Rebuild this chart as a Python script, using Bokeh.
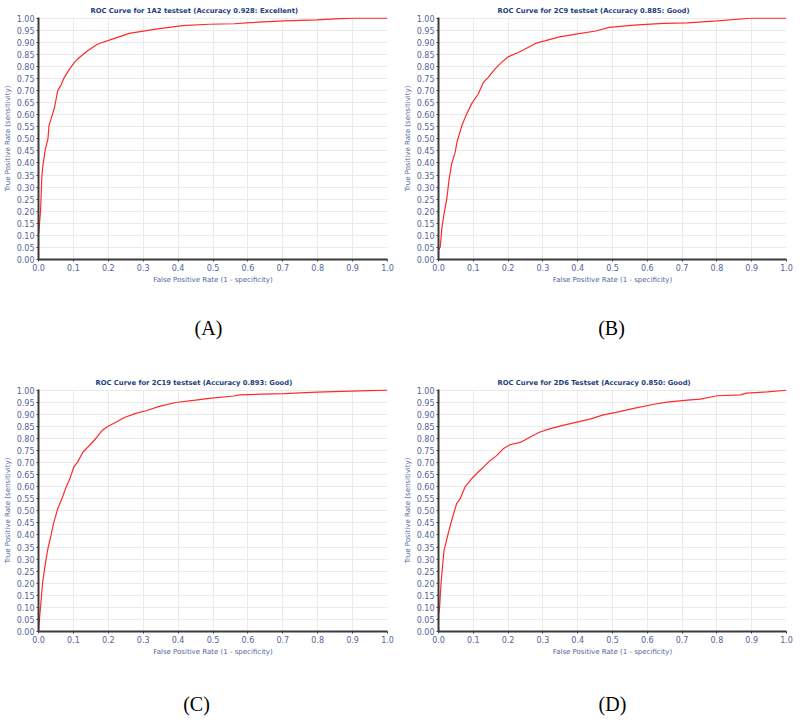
from bokeh.plotting import figure
from bokeh.models import Range1d, FixedTicker, PrintfTickFormatter
from bokeh.core.properties import value
from bokeh.layouts import column, row
from bokeh.embed import file_html
from bokeh.resources import INLINE

# ---- data ----
x_ticks = [0.0, 0.1, 0.2, 0.3, 0.4, 0.5, 0.6, 0.7, 0.8, 0.9, 1.0]
y_ticks = [0.0, 0.05, 0.1, 0.15, 0.2, 0.25, 0.3, 0.35, 0.4, 0.45, 0.5, 0.55,
           0.6, 0.65, 0.7, 0.75, 0.8, 0.85, 0.9, 0.95, 1.0]

titles = [
    "ROC Curve for 1A2 testset  (Accuracy 0.928: Excellent)",
    "ROC Curve for 2C9 testset  (Accuracy 0.885: Good)",
    "ROC Curve for 2C19 testset  (Accuracy 0.893: Good)",
    "ROC Curve for 2D6 Testset (Accuracy 0.850: Good)",
]
panel_labels = ["(A)", "(B)", "(C)", "(D)"]

A_fpr = [0, 0, 0.001, 0.006, 0.0095, 0.012, 0.019, 0.027, 0.030, 0.036,
         0.046, 0.055, 0.065, 0.074, 0.089, 0.103, 0.117, 0.141, 0.17, 0.203,
         0.26, 0.336, 0.412, 0.489, 0.56, 0.607, 0.703, 0.798, 0.85, 0.9, 1.0]
A_tpr = [0, 0.11, 0.115, 0.204, 0.342, 0.383, 0.452, 0.5, 0.555, 0.583,
         0.631, 0.70, 0.724, 0.755, 0.789, 0.817, 0.837, 0.865, 0.893, 0.909,
         0.937, 0.955, 0.969, 0.975, 0.977, 0.982, 0.989, 0.993, 0.997, 1.0, 1.0]

B_fpr = [0, 0, 0.005, 0.0095, 0.016, 0.024, 0.030, 0.038, 0.048, 0.053,
         0.067, 0.081, 0.095, 0.114, 0.129, 0.143, 0.162, 0.181, 0.2, 0.229,
         0.257, 0.281, 0.305, 0.348, 0.395, 0.452, 0.49, 0.561, 0.647, 0.715,
         0.801, 0.897, 1.0]
B_tpr = [0, 0.039, 0.052, 0.128, 0.19, 0.252, 0.328, 0.397, 0.445, 0.486,
         0.555, 0.603, 0.645, 0.686, 0.734, 0.755, 0.789, 0.817, 0.840, 0.858,
         0.879, 0.897, 0.906, 0.923, 0.934, 0.947, 0.962, 0.971, 0.979, 0.981,
         0.989, 1.0, 1.0]

C_fpr = [0, 0.003, 0.008, 0.012, 0.019, 0.027, 0.036, 0.043, 0.055, 0.067,
         0.079, 0.09, 0.093, 0.101, 0.112, 0.127, 0.146, 0.165, 0.182, 0.198,
         0.222, 0.246, 0.279, 0.308, 0.346, 0.393, 0.45, 0.489, 0.559, 0.578,
         0.703, 0.798, 0.894, 1.0]
C_tpr = [0, 0.055, 0.138, 0.206, 0.275, 0.344, 0.399, 0.447, 0.509, 0.55,
         0.598, 0.633, 0.647, 0.681, 0.702, 0.743, 0.771, 0.801, 0.833, 0.850,
         0.867, 0.887, 0.904, 0.915, 0.933, 0.949, 0.959, 0.966, 0.976, 0.981,
         0.986, 0.992, 0.996, 1.0]

D_fpr = [0, 0, 0.003, 0.007, 0.011, 0.016, 0.022, 0.029, 0.038, 0.052,
         0.062, 0.076, 0.095, 0.114, 0.129, 0.148, 0.167, 0.186, 0.205, 0.238,
         0.257, 0.29, 0.319, 0.357, 0.395, 0.438, 0.471, 0.51, 0.561, 0.619,
         0.657, 0.715, 0.753, 0.801, 0.868, 0.885, 0.945, 1.0]
D_tpr = [0, 0.069, 0.096, 0.193, 0.261, 0.337, 0.371, 0.413, 0.461, 0.530,
         0.55, 0.598, 0.633, 0.661, 0.681, 0.708, 0.729, 0.757, 0.774, 0.785,
         0.801, 0.826, 0.840, 0.854, 0.867, 0.881, 0.897, 0.908, 0.925, 0.942,
         0.951, 0.959, 0.963, 0.977, 0.981, 0.988, 0.993, 1.0]

TICK_COLOR = "#52649a"
TITLE_COLOR = "#24407c"
AXIS_COLOR = "#3a3a3a"
CURVE_COLOR = "#ff2a2a"


def make_panel(title, fpr, tpr, left, right, title_offset):
    p = figure(width=400, height=290, output_backend="svg",
               toolbar_location=None, x_range=Range1d(0, 1),
               y_range=Range1d(0, 1.003),
               min_border_left=left, min_border_right=right,
               min_border_top=17, min_border_bottom=31)
    p.background_fill_color = "white"
    p.border_fill_color = "white"
    p.outline_line_color = None

    p.title.text = title
    p.title.text_font = "DejaVu Sans"
    p.title.text_font_size = "6.8px"
    p.title.text_font_style = "bold"
    p.title.text_color = TITLE_COLOR
    p.title.align = "left"
    p.title.offset = title_offset
    p.title.standoff = 6

    p.line(fpr, tpr, line_color=CURVE_COLOR, line_width=1.2)

    p.xaxis.ticker = FixedTicker(ticks=x_ticks)
    p.yaxis.ticker = FixedTicker(ticks=y_ticks)
    p.xaxis.formatter = PrintfTickFormatter(format="%.1f")
    p.yaxis.formatter = PrintfTickFormatter(format="%.2f")
    p.xaxis.axis_label = "False Positive Rate (1 - specificity)"
    p.yaxis.axis_label = "True Positive Rate (sensitivity)"
    for ax in (p.xaxis, p.yaxis):
        ax.axis_line_color = AXIS_COLOR
        ax.axis_line_width = 2
        ax.major_tick_line_color = AXIS_COLOR
        ax.major_tick_out = 2
        ax.major_tick_in = 0
        ax.minor_tick_out = 0
        ax.minor_tick_in = 0
        ax.major_label_text_font = "DejaVu Sans"
        ax.major_label_text_font_size = "8px"
        ax.major_label_text_color = TICK_COLOR
        ax.major_label_standoff = 2
        ax.axis_label_text_font = "DejaVu Sans"
        ax.axis_label_text_font_size = "7px"
        ax.axis_label_text_font_style = "normal"
        ax.axis_label_text_color = TICK_COLOR
        ax.axis_label_standoff = 2

    p.xgrid.ticker = FixedTicker(ticks=x_ticks)
    p.ygrid.ticker = FixedTicker(ticks=y_ticks)
    p.grid.grid_line_color = "#eaeaea"
    p.grid.grid_line_width = 1
    return p


def make_label(text, height, cx, cy_from_top):
    q = figure(width=400, height=height, output_backend="svg",
               toolbar_location=None, x_range=Range1d(0, 400),
               y_range=Range1d(0, height),
               min_border_left=0, min_border_right=0,
               min_border_top=0, min_border_bottom=0)
    q.axis.visible = False
    q.grid.visible = False
    q.outline_line_color = None
    q.background_fill_color = "white"
    q.border_fill_color = "white"
    q.text(x=[cx], y=[height - cy_from_top], text=[text],
           text_font=value("Liberation Serif"), text_font_size="20px",
           text_color="black", text_align="center", text_baseline="middle")
    return q


pA = make_panel(titles[0], A_fpr, A_tpr, 38, 13, 52)
pB = make_panel(titles[1], B_fpr, B_tpr, 38, 14, 59)
pC = make_panel(titles[2], C_fpr, C_tpr, 38, 13, 57)
pD = make_panel(titles[3], D_fpr, D_tpr, 38, 14, 59)

lA = make_label(panel_labels[0], 82, 208, 37)
lB = make_label(panel_labels[1], 82, 211, 37)
lC = make_label(panel_labels[2], 59, 196, 41)
lD = make_label(panel_labels[3], 59, 212, 41)

layout = column(row(pA, pB), row(lA, lB), row(pC, pD), row(lC, lD))

with open("out.html", "w") as f:
    f.write(file_html(layout, INLINE))
